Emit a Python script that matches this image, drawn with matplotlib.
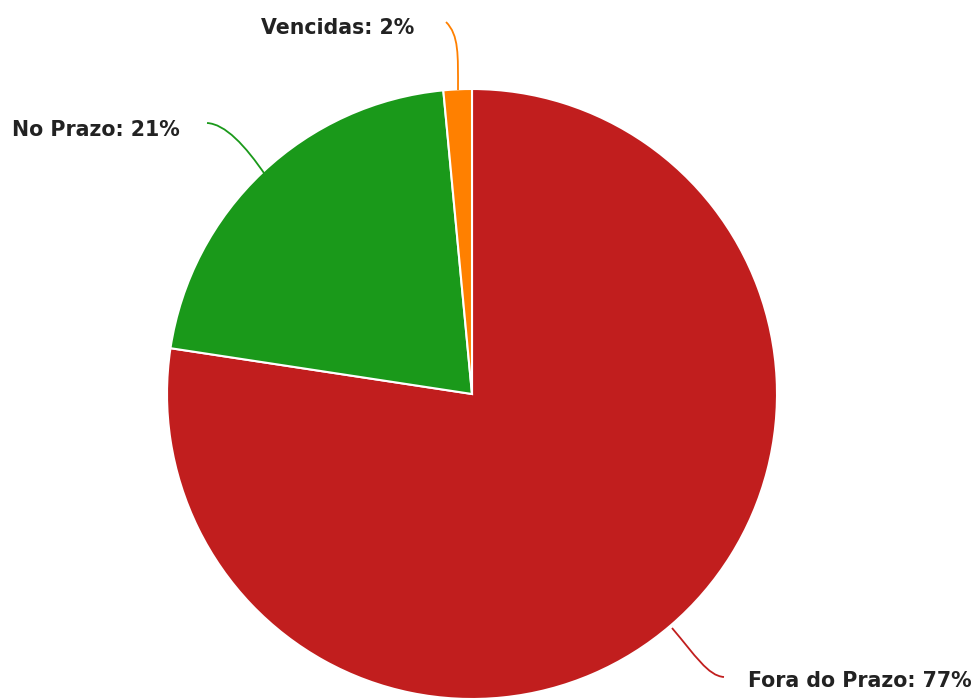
import matplotlib
matplotlib.use("Agg")
import matplotlib.pyplot as plt
from matplotlib.path import Path
from matplotlib.patches import PathPatch

labels = ["Fora do Prazo", "No Prazo", "Vencidas"]
values = [77.4, 21.1, 1.5]
pct_labels = ["77%", "21%", "2%"]
colors = ["#c11e1e", "#1a991a", "#ff8000"]

W, H = 977, 698
fig = plt.figure(figsize=(W / 100, H / 100), dpi=100)
ax = fig.add_axes([0, 0, 1, 1])

cx, cy, r = 472, H - 394, 305
ax.pie(values, colors=colors, startangle=90, counterclock=False,
       center=(cx, cy), radius=r, frame=True,
       wedgeprops=dict(edgecolor="white", linewidth=1.5))
ax.set_xlim(0, W)
ax.set_ylim(0, H)
ax.set_aspect("equal")
ax.axis("off")

def Y(y):
    return H - y

# connectors (cubic bezier) in pixel coords (y down)
connectors = [
    ((672, 628), (695, 655), (708, 676), (724, 677)),
    ((266, 176), (245, 145), (225, 124), (207, 123)),
    ((458, 90), (458, 55), (459, 35), (446, 22)),
]
for pts, col in zip(connectors, colors):
    path = Path([(x, Y(y)) for x, y in pts],
                [Path.MOVETO, Path.CURVE4, Path.CURVE4, Path.CURVE4])
    ax.add_patch(PathPatch(path, facecolor="none", edgecolor=col, lw=1.3))

text_pos = [(748, 681, "left"), (180, 130, "right"), (414, 28, "right")]
for (x, y, ha), lab, p in zip(text_pos, labels, pct_labels):
    ax.text(x, Y(y), f"{lab}: {p}", ha=ha, va="center", fontsize=14.8,
            fontweight="bold", color="#222222", family="DejaVu Sans")

fig.savefig("out.png", dpi=100)
